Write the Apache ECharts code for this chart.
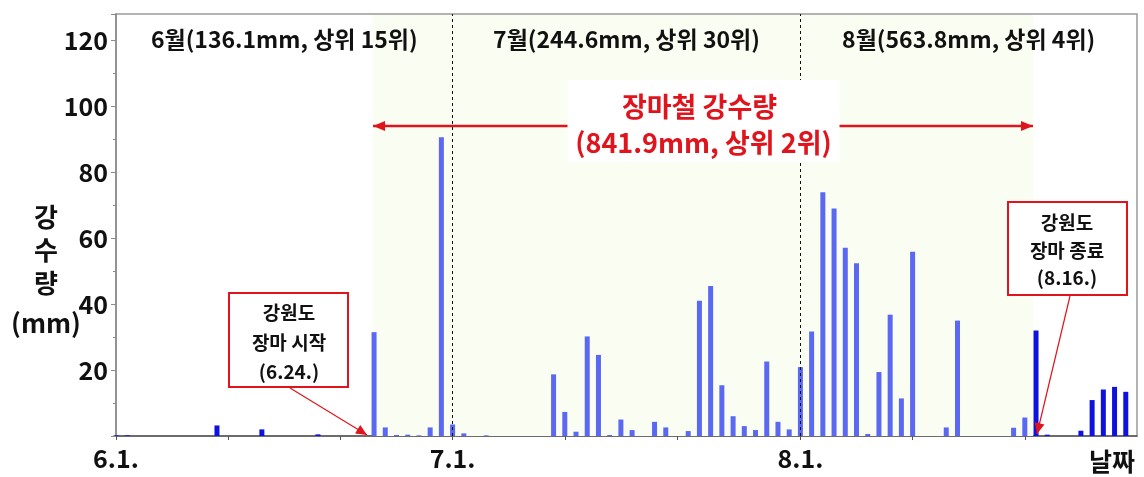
<!DOCTYPE html>
<html><head><meta charset="utf-8">
<script src="https://cdn.jsdelivr.net/npm/echarts@6/dist/echarts.min.js"></script>
<style>html,body{margin:0;padding:0;background:#fff}#c{width:1144px;height:477px}</style>
</head><body><div id="c"></div>
<script>
// Daily precipitation (mm), Gangwon-do, 2020 summer
const months = [6, 7, 8];
const juneRain = [0.2,0.2,0,0,0,0,0,0,0,3.2, 0,0,0,2.0,0,0,0,0,0.5,0, 0,0,0,31.5,2.6,0.3,0.4,0.2,2.6,90.6];
const julyRain = [3.5,0.8,0,0.2,0,0,0,0,0,18.7, 7.3,1.3,30.2,24.6,0.3,5.0,1.8,0,4.3,2.6, 0,1.5,41.0,45.5,15.4,6.0,3.0,1.8,22.6,4.3, 2.0];
const augRain  = [20.9,31.7,73.9,69.0,57.1,52.4,0.6,19.4,36.8,11.4, 55.9,0,0,2.6,35.0,0,0,0,0,2.5, 5.6,32.0,0.4,0,0,1.6,10.9,14.1,14.9,13.4, 0];
const tickDays = [1, 11, 21];
const labelDays = [1];
const yTickLabels = [20, 40, 60, 80, 100, 120];
const monthNotes = ['6월(136.1mm, 상위 15위)', '7월(244.6mm, 상위 30위)', '8월(563.8mm, 상위 4위)'];
const monsoonTitle = ['장마철 강수량', '(841.9mm, 상위 2위)'];
const startNote = ['강원도', '장마 시작', '(6.24.)'];
const endNote = ['강원도', '장마 종료', '(8.16.)'];
const monsoonBarsFrom = '6.24.', monsoonBarsTo = '8.21.';
const shadeFrom = '6.24.', shadeTo = '8.22.';
const xEndName = '날짜';
const yName = ['강', '수', '량', '(mm)'];

(function () {
const monthly = [juneRain, julyRain, augRain];
const categories = [], values = [];
monthly.forEach((arr, mi) => arr.forEach((v, i) => { categories.push(months[mi] + '.' + (i + 1) + '.'); values.push(v); }));
const iFrom = categories.indexOf(monsoonBarsFrom), iTo = categories.indexOf(monsoonBarsTo);
const dayOf = c => parseInt(c.split('.')[1], 10);

const FONT = '"Noto Sans CJK KR", "Noto Sans", sans-serif';
const chart = echarts.init(document.getElementById('c'));
chart.setOption({
  animation: false,
  grid: { left: 116, right: 7, top: 14, bottom: 41, show: true, borderColor: '#9a9a9a', borderWidth: 1.5, backgroundColor: 'transparent' },
  xAxis: {
    type: 'category', data: categories, boundaryGap: false,
    axisLine: { lineStyle: { color: '#555', width: 1.5 } },
    axisTick: { show: true, length: 4, lineStyle: { color: '#555' }, interval: (i, v) => tickDays.includes(dayOf(v)) },
    axisLabel: { interval: (i, v) => labelDays.includes(dayOf(v)), fontSize: 25, fontWeight: 'bold', color: '#111', fontFamily: FONT, margin: 10 },
    splitLine: { show: false }
  },
  yAxis: {
    type: 'value', min: 0, max: 128, interval: 20,
    axisLine: { show: true, lineStyle: { color: '#8a8a8a', width: 1.5 } },
    axisTick: { show: true, length: 5, lineStyle: { color: '#8a8a8a' } },
    minorTick: { show: true, splitNumber: 2, length: 3, lineStyle: { color: '#8a8a8a' } },
    splitLine: { show: false },
    axisLabel: { showMaxLabel: false, formatter: v => yTickLabels.includes(v) ? String(v) : '', fontSize: 25, fontWeight: 'bold', color: '#111', fontFamily: FONT, margin: 8 }
  },
  series: [{
    type: 'bar', data: values, barWidth: 5,
    itemStyle: { color: p => (p.dataIndex >= iFrom && p.dataIndex <= iTo) ? '#5b68f2' : '#0f12dc' },
    markLine: {
      silent: true, symbol: 'none', label: { show: false },
      lineStyle: { color: '#111', type: [3, 3], width: 1 },
      data: [{ xAxis: '7.1.' }, { xAxis: '8.1.' }]
    }
  }]
});

const px = (cat, v) => chart.convertToPixel({ gridIndex: 0 }, [categories.indexOf(cat), v]);
function arrowHead(x1, y1, x2, y2, len, hw, color) {
  const dx = x2 - x1, dy = y2 - y1, L = Math.hypot(dx, dy), ux = dx / L, uy = dy / L;
  const bx = x2 - ux * len, by = y2 - uy * len;
  return { type: 'polygon', z: 110, shape: { points: [[x2, y2], [bx - uy * hw, by + ux * hw], [bx + uy * hw, by - ux * hw]] }, style: { fill: color } };
}
function arrowLine(x1, y1, x2, y2, w, color, both, len, hw) {
  const els = [{ type: 'line', z: 110, shape: { x1, y1, x2, y2 }, style: { stroke: color, lineWidth: w } }];
  els.push(arrowHead(x1, y1, x2, y2, len, hw, color));
  if (both) els.push(arrowHead(x2, y2, x1, y1, len, hw, color));
  return els;
}
const RED = '#e0141c';
const baseY = px('6.1.', 0)[1];
const topY = px('6.1.', 128)[1];
const xStart = px('6.1.', 0)[0], x71 = px('7.1.', 0)[0], x81 = px('8.1.', 0)[0], xEnd = px('8.31.', 0)[0];
const centers = [(xStart + x71) / 2, (x71 + x81) / 2, (x81 + xEnd) / 2];
const arrowY = px('6.24.', 94)[1];
const sL = px(shadeFrom, 0)[0] - 1, sR = px(shadeTo, 0)[0] - 3;
const boxCx = (x71 + x81) / 2 + 77;

const g = [];
// monsoon-period shading (behind bars)
g.push({ type: 'rect', z: 1, silent: true, shape: { x: sL, y: topY + 1, width: sR - sL, height: baseY - topY - 1 }, style: { fill: '#fafdf2' } });
monthNotes.forEach((t, i) => g.push({ type: 'text', z: 120, x: centers[i], y: topY + 25, style: { text: t, font: `bold 23px ${FONT}`, fill: '#111', align: 'center', verticalAlign: 'middle' } }));
g.push(...arrowLine(sL, arrowY, sR, arrowY, 2.5, RED, true, 12, 5));
g.push({ type: 'rect', z: 115, shape: { x: boxCx - 136, y: 80, width: 272, height: 82 }, style: { fill: '#fff' } });
g.push({ type: 'text', z: 120, x: boxCx - 4, y: 107, style: { text: monsoonTitle[0], font: `bold 27px ${FONT}`, fill: RED, align: 'center', verticalAlign: 'middle' } });
g.push({ type: 'text', z: 120, x: boxCx, y: 143, style: { text: monsoonTitle[1], font: `bold 27px ${FONT}`, fill: RED, align: 'center', verticalAlign: 'middle' } });
// start note
g.push({ type: 'rect', z: 115, shape: { x: 229, y: 293, width: 119, height: 94 }, style: { fill: '#fff', stroke: RED, lineWidth: 2 } });
startNote.forEach((t, i) => g.push({ type: 'text', z: 120, x: 289, y: 313 + i * 29.5, style: { text: t, font: `bold 19px ${FONT}`, fill: '#111', align: 'center', verticalAlign: 'middle' } }));
const s624 = px('6.24.', 0);
g.push(...arrowLine(290, 388, s624[0] - 7, baseY - 1, 1.2, RED, false, 11, 5));
// end note
g.push({ type: 'rect', z: 115, shape: { x: 1008, y: 202, width: 119, height: 93 }, style: { fill: '#fff', stroke: RED, lineWidth: 2 } });
endNote.forEach((t, i) => g.push({ type: 'text', z: 120, x: 1067, y: 223 + i * 27.5, style: { text: t, font: `bold 19px ${FONT}`, fill: '#111', align: 'center', verticalAlign: 'middle' } }));
const s822 = px('8.22.', 0);
g.push(...arrowLine(1070, 296, s822[0] + 1, baseY - 2, 1.2, RED, false, 11, 5));
// axis names
g.push({ type: 'text', z: 120, x: 1112, y: baseY + 25, style: { text: xEndName, font: `bold 25px ${FONT}`, fill: '#111', align: 'center', verticalAlign: 'middle' } });
const yNameY = [217, 250, 283, 323];
yName.forEach((t, i) => g.push({ type: 'text', z: 120, x: 46, y: yNameY[i], style: { text: t, font: `bold 26px ${FONT}`, fill: '#111', align: 'center', verticalAlign: 'middle' } }));
chart.setOption({ graphic: { elements: g } });
})();
</script></body></html>
